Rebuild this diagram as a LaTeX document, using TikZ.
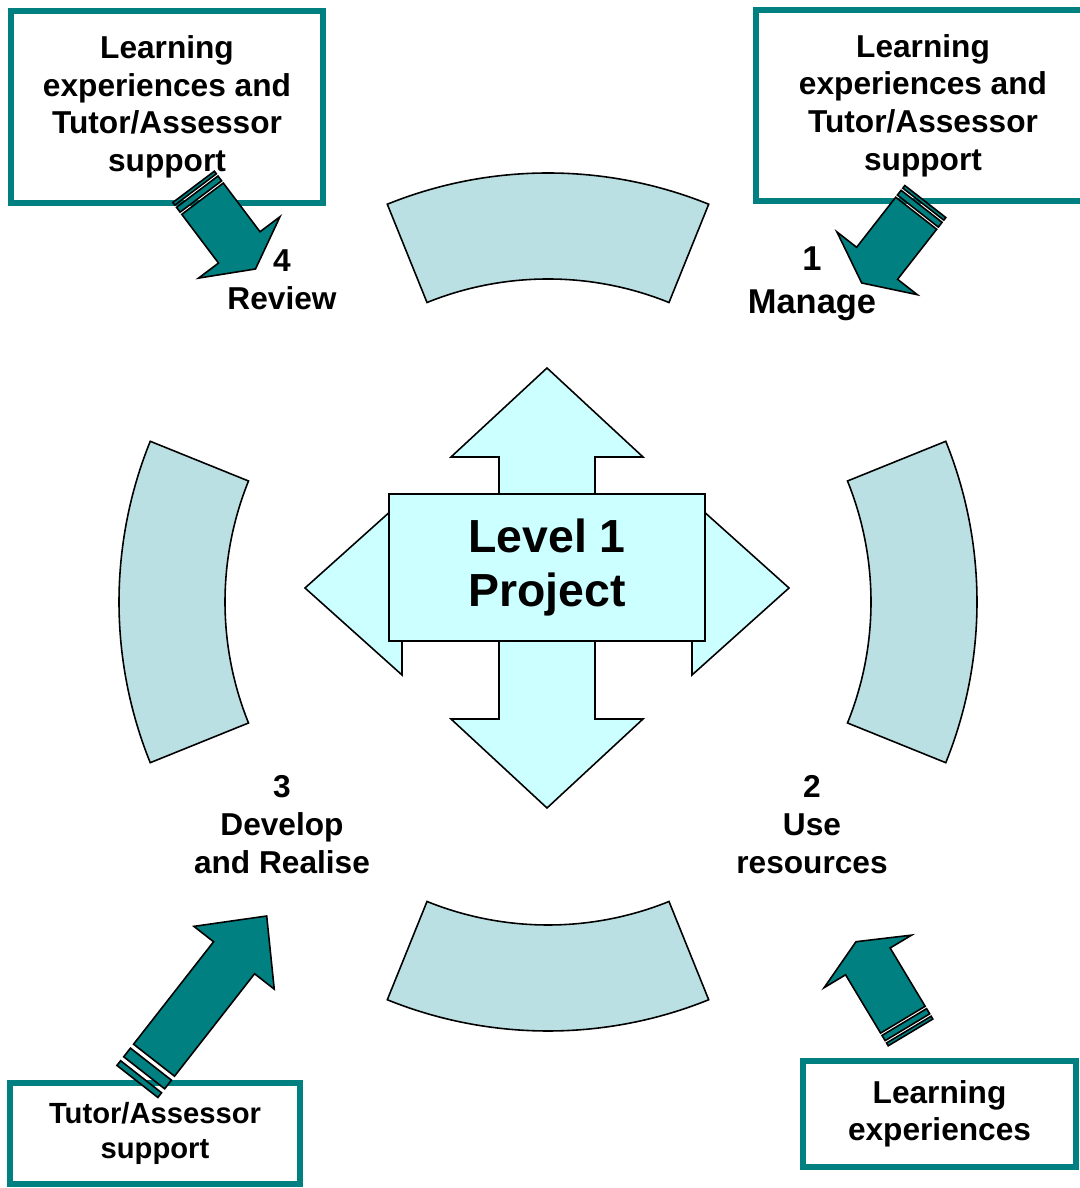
\documentclass[tikz,border=0pt]{standalone}
\usepackage{fontspec}
\setmainfont{Liberation Sans}
\usepackage{tikz}
\usetikzlibrary{calc}
\definecolor{tealbox}{RGB}{0,128,128}
\definecolor{ringfill}{RGB}{187,224,227}
\definecolor{hubfill}{RGB}{204,255,255}
% striped block arrow: tip, angle, head length, shaft length, stripe scale
\newcommand{\stripedarrow}[5]{%
  \pgfmathsetmacro{\stripeA}{-(#3+#4)-5*#5}
  \pgfmathsetmacro{\stripeB}{\stripeA-11*#5}
  \pgfmathsetmacro{\stripeC}{\stripeB-5*#5}
  \pgfmathsetmacro{\stripeD}{\stripeC-6*#5}
  \begin{scope}[shift={#1}, rotate=#2]
    \draw[tealarrow] (0,0) -- (-#3,51) -- (-#3,26) -- ({-(#3+#4)},26)
      -- ({-(#3+#4)},-26) -- (-#3,-26) -- (-#3,-51) -- cycle;
    \draw[tealarrow] (\stripeA,26) rectangle (\stripeB,-26);
    \draw[tealarrow] (\stripeC,26) rectangle (\stripeD,-26);
  \end{scope}}

\begin{document}
\begin{tikzpicture}[x=0.01cm, y=0.01cm,
  sidebox/.style={draw=tealbox, line width=1.85pt, fill=white, align=center,
                  inner sep=0pt, font=\fontsize{9}{10.7}\selectfont\bfseries},
  steplabel/.style={align=center, font=\fontsize{9}{10.7}\selectfont\bfseries},
  segment/.style={draw=black, line width=0.45pt, fill=ringfill},
  hub/.style={draw=black, line width=0.45pt, fill=hubfill},
  tealarrow/.style={draw=black, line width=0.45pt, fill=tealbox},
]
\useasboundingbox (0,0) rectangle (1080,1188);

% Ring of four segments
\coordinate (ring) at (548,586);
\foreach \a in {0,90,180,270}
  \draw[segment] ([shift={(\a-22:429)}]ring)
    arc[start angle=\a-22, end angle=\a+22, radius=429]
    -- ([shift={(\a+22:323)}]ring)
    arc[start angle=\a+22, end angle=\a-22, radius=323] -- cycle;

% Four-way arrow behind the project box
\coordinate (hub) at (547,600);
\begin{scope}[shift={(hub)}]
  \draw[hub] (0,220) -- (96,131) -- (48,131) -- (48,48) -- (145,48)
    -- (145,87) -- (242,0) -- (145,-87) -- (145,-48) -- (48,-48)
    -- (48,-131) -- (96,-131) -- (0,-220) -- (-96,-131) -- (-48,-131)
    -- (-48,-48) -- (-145,-48) -- (-145,-87) -- (-242,0) -- (-145,87)
    -- (-145,48) -- (-48,48) -- (-48,131) -- (-96,131) -- cycle;
\end{scope}
\node[hub, minimum width=3.16cm, minimum height=1.47cm, align=center,
      font=\fontsize{13.2}{15.4}\selectfont\bfseries] (project)
  at (547,620.5) {Level 1\\Project};

% Stage labels
\node[steplabel, font=\fontsize{9.8}{12.3}\selectfont\bfseries] (manage)
  at (812,904) {1\\Manage};
\node[steplabel] (useres) at (812,363.5) {2\\Use\\resources};
\node[steplabel] (develop) at (282,363.5) {3\\Develop\\and Realise};
\node[steplabel] (review) at (282,908.5) {4\\Review};

% Support boxes
\node[sidebox, minimum width=3.12cm, minimum height=1.92cm] (boxTL)
  at (167,1081) {Learning\\experiences and\\Tutor/Assessor\\support};
\node[sidebox, minimum width=3.34cm, minimum height=1.91cm] (boxTR)
  at (923,1082.5) {Learning\\experiences and\\Tutor/Assessor\\support};
\node[sidebox, minimum width=2.90cm, minimum height=1.01cm,
      font=\fontsize{8.3}{10.2}\selectfont\bfseries] (boxBL)
  at (155,54.5) {Tutor/Assessor\\support};
\node[sidebox, minimum width=2.73cm, minimum height=1.06cm] (boxBR)
  at (939.5,74) {Learning\\experiences};

% Striped arrows from the boxes to the stages
\coordinate (tipReview) at (255.5,919);
\coordinate (tipManage) at (861.7,905);
\coordinate (tipUse) at (856,246.3);
\coordinate (tipDevelop) at (266.7,272);
\stripedarrow{(tipReview)}{-53}{27}{61}{0.55}
\stripedarrow{(tipManage)}{232}{25}{63.5}{0.55}
\stripedarrow{(tipUse)}{121}{23}{68}{0.55}
\stripedarrow{(tipDevelop)}{52}{53}{130}{1}

\end{tikzpicture}
\end{document}
